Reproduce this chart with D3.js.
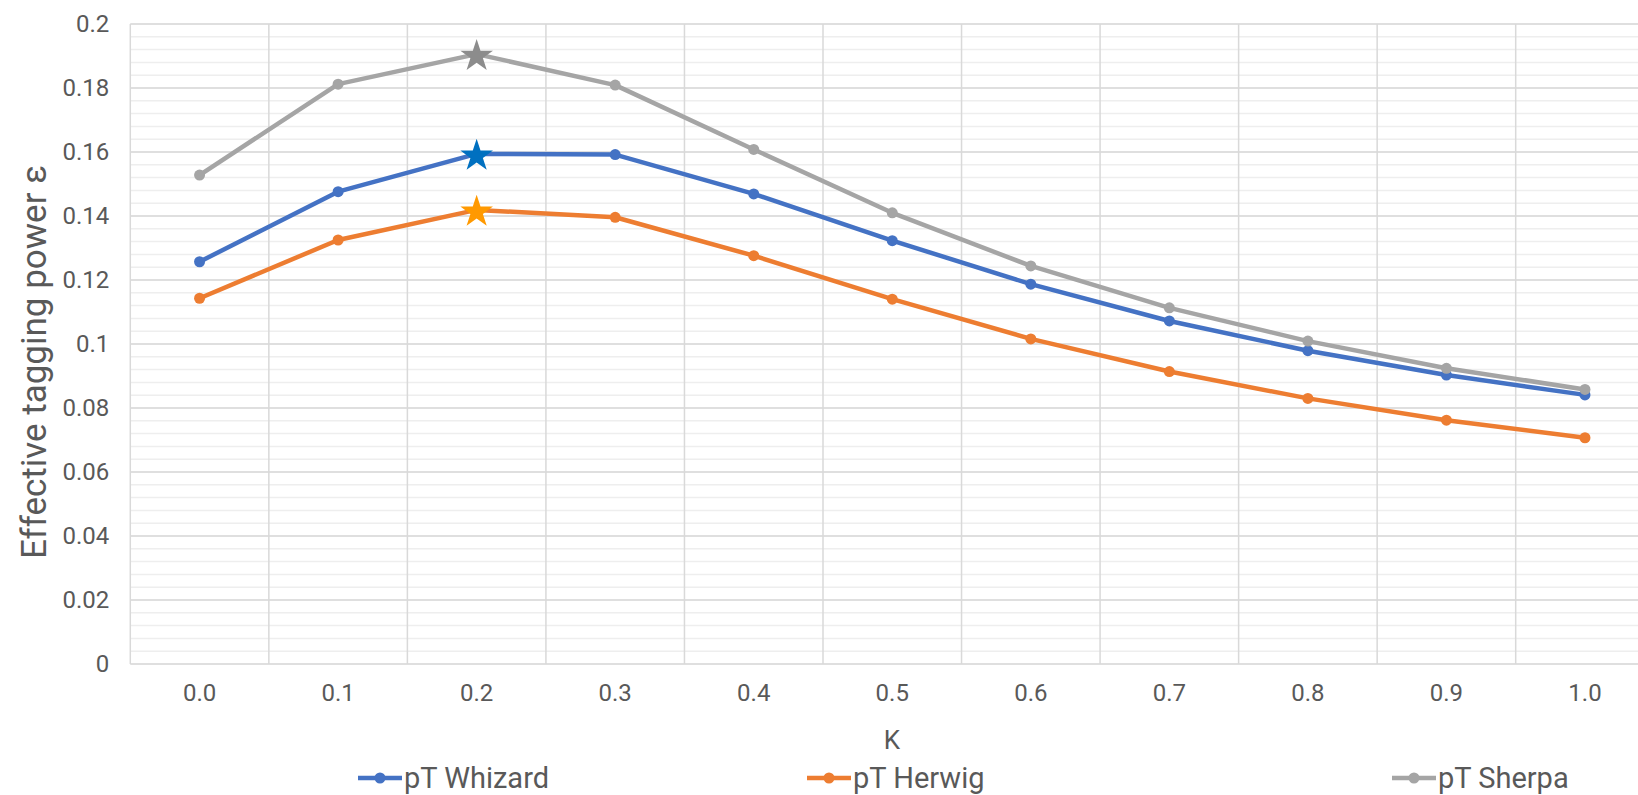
<!DOCTYPE html>
<html>
<head>
<meta charset="utf-8">
<script src="https://cdn.jsdelivr.net/npm/d3@7"></script>
<style>
  body { margin: 0; background: #ffffff; }
  svg { display: block; font-family: Roboto, "Liberation Sans", sans-serif; }
</style>
</head>
<body>
<svg id="chart" width="1638" height="795"></svg>
<script>
// categories on the x axis (kappa)
const kappa = ['0.0', '0.1', '0.2', '0.3', '0.4', '0.5', '0.6', '0.7', '0.8', '0.9', '1.0'];

// effective tagging power per generator
const whizard = [0.1257, 0.1476, 0.1594, 0.1592, 0.1469, 0.1323, 0.1187, 0.1072, 0.0979, 0.0903, 0.0841];
const herwig = [0.1143, 0.1325, 0.1419, 0.1396, 0.1276, 0.1140, 0.1016, 0.0914, 0.0830, 0.0762, 0.0707];
const sherpa = [0.1528, 0.1812, 0.1906, 0.1809, 0.1608, 0.1410, 0.1244, 0.1113, 0.1009, 0.0924, 0.0858];

const seriesNames = ['pT Whizard', 'pT Herwig', 'pT Sherpa'];

// y axis ticks
const yTicks = [0, 0.02, 0.04, 0.06, 0.08, 0.1, 0.12, 0.14, 0.16, 0.18, 0.2];
const yTickLabels = ['0', '0.02', '0.04', '0.06', '0.08', '0.1', '0.12', '0.14', '0.16', '0.18', '0.2'];
const yMinorTicks = d3.range(0, 0.2001, 0.004);

// the maximum of each curve is marked with a star
const starIndex = 2;

const lineColors = ['#4472c4', '#ed7d31', '#a5a5a5'];
const starColors = ['#0070c0', '#ff9900', '#8c8c8c'];
const textColor = '#595959';

const svg = d3.select('#chart');
const plotLeft = 130.3, band = 138.54, plotTop = 24, plotBottom = 664;

const xScale = d3.scaleBand()
    .domain(kappa)
    .range([plotLeft, plotLeft + band * kappa.length])
    .padding(0);

const yScale = d3.scaleLinear()
    .domain([0, 0.2])
    .range([plotBottom, plotTop]);

const cx = k => xScale(k) + xScale.bandwidth() / 2;

// minor gridlines
svg.append('g')
    .selectAll('line')
    .data(yMinorTicks)
    .enter()
    .append('line')
    .attr('x1', plotLeft)
    .attr('x2', 1638)
    .attr('y1', d => yScale(d))
    .attr('y2', d => yScale(d))
    .attr('stroke', '#eeeeee')
    .attr('stroke-width', 1.5);

// major gridlines
svg.append('g')
    .selectAll('line')
    .data(yTicks)
    .enter()
    .append('line')
    .attr('x1', plotLeft)
    .attr('x2', 1638)
    .attr('y1', d => yScale(d))
    .attr('y2', d => yScale(d))
    .attr('stroke', '#d9d9d9')
    .attr('stroke-width', 1.5);

// vertical lines between categories
svg.append('g')
    .selectAll('line')
    .data(kappa)
    .enter()
    .append('line')
    .attr('x1', d => xScale(d))
    .attr('x2', d => xScale(d))
    .attr('y1', plotTop)
    .attr('y2', plotBottom)
    .attr('stroke', '#d9d9d9')
    .attr('stroke-width', 1.5);

// y axis labels
const yAxis = d3.axisLeft(yScale)
    .tickValues(yTicks)
    .tickFormat((d, i) => yTickLabels[i])
    .tickSize(0)
    .tickPadding(21);
const gy = svg.append('g')
    .attr('transform', `translate(${plotLeft}, 0)`)
    .call(yAxis);
gy.select('.domain').remove();
gy.selectAll('.tick text')
    .attr('fill', textColor)
    .attr('font-size', '24px')
    .attr('font-family', 'Roboto, sans-serif');

// x axis labels
const xAxis = d3.axisBottom(xScale).tickSize(0).tickPadding(20);
const gx = svg.append('g')
    .attr('transform', `translate(0, ${plotBottom})`)
    .call(xAxis);
gx.select('.domain').remove();
gx.selectAll('.tick text')
    .attr('fill', textColor)
    .attr('font-size', '24px')
    .attr('font-family', 'Roboto, sans-serif');

// axis titles
svg.append('text')
    .text('Effective tagging power ε')
    .attr('transform', 'translate(46, 362) rotate(-90)')
    .attr('text-anchor', 'middle')
    .attr('fill', textColor)
    .attr('font-size', '35px');

svg.append('text')
    .text('K')
    .attr('x', 892)
    .attr('y', 749)
    .attr('text-anchor', 'middle')
    .attr('fill', textColor)
    .attr('font-size', '26px');

// lines, dots and stars
const lineGenerator = d3.line()
    .x((d, i) => cx(kappa[i]))
    .y(d => yScale(d));

[whizard, herwig, sherpa].forEach((data, s) => {
    const g = svg.append('g');
    g.append('path')
        .attr('d', lineGenerator(data))
        .attr('fill', 'none')
        .attr('stroke', lineColors[s])
        .attr('stroke-width', 4.5)
        .attr('stroke-linejoin', 'round');

    // dots everywhere except at the star
    const dots = data.map((v, i) => ({ k: kappa[i], v: v })).filter((d, i) => i !== starIndex);
    g.selectAll('circle')
        .data(dots)
        .enter()
        .append('circle')
        .attr('cx', d => cx(d.k))
        .attr('cy', d => yScale(d.v))
        .attr('r', 5.5)
        .attr('fill', lineColors[s]);

    g.append('path')
        .attr('d', d3.symbol().type(d3.symbolStar).size(330)())
        .attr('transform', `translate(${cx(kappa[starIndex])}, ${yScale(data[starIndex]) + 2})`)
        .attr('fill', starColors[s]);
});

// legend
const legendX = [358, 807, 1392];
const legendY = 778;
seriesNames.forEach((name, s) => {
    const g = svg.append('g').attr('transform', `translate(${legendX[s]}, ${legendY})`);
    g.append('line')
        .attr('x1', 0)
        .attr('x2', 44)
        .attr('stroke', lineColors[s])
        .attr('stroke-width', 4.5);
    g.append('circle')
        .attr('cx', 22)
        .attr('r', 5.5)
        .attr('fill', lineColors[s]);
    g.append('text')
        .text(name)
        .attr('x', 46)
        .attr('dy', '0.36em')
        .attr('fill', textColor)
        .attr('font-size', '29px');
});
</script>
</body>
</html>
